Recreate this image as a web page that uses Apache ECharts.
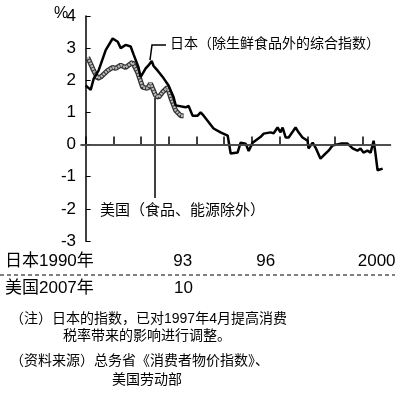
<!DOCTYPE html>
<html><head><meta charset="utf-8">
<script src="https://cdn.jsdelivr.net/npm/echarts@6/dist/echarts.min.js"></script>
<style>html,body{margin:0;padding:0;background:#fff}#c{width:400px;height:400px}</style>
</head><body><div id="c"></div>
<script>
// months since start (Japan: Jan 1990, US: Jan 2007)
const jpMonths = [0,2.2,3.5,5.6,8.7,11.7,13.9,15.2,17.3,19.5,20.8,22.9,23.8,26,27.3,28.6,29.4,31.2,33.8,35.9,38.1,39,43.3,44.6,46.3,48.5,49.8,51.1,55.4,58.4,61.5,62.8,65.8,67.1,69.3,70.6,72.3,75.8,77.1,80.1,81.4,83.1,84.4,85.3,86.6,87.9,90.9,92.2,93.9,96.1,96.5,98.3,99.6,101.7,103,105.2,106.9,110.4,113.4,115.6,117.7,119,120.3,122,123.4,124.7,125.5,126.4,128.6];
const jpValues = [1.84,1.7,2.05,2.3,2.94,3.3,3.2,3.0,3.1,3.05,2.8,2.4,2.1,2.37,2.47,2.6,2.45,2.3,2.06,1.84,1.47,1.22,1.16,1.2,0.9,0.9,1.0,0.9,0.5,0.38,0.28,-0.28,-0.25,0.06,0.03,-0.2,0.06,0.24,0.34,0.38,0.35,0.53,0.38,0.53,0.22,0.22,0.53,0.38,0.22,0.12,-0.12,0.06,-0.1,-0.44,-0.34,-0.19,-0.03,0.03,0.03,-0.12,-0.19,-0.12,-0.25,-0.19,-0.25,0.12,-0.28,-0.8,-0.75];
const usMonths = [0.9,3.5,5.2,6.5,9.5,11.7,13,15.2,17.3,20.3,22.5,24.7,26.8,28.1,30.3,31.6,33.3,35.5,36.8,39,41.1,42.4];
const usValues = [2.72,2.3,2.06,2.1,2.3,2.4,2.37,2.47,2.4,2.56,2.25,1.78,1.75,1.9,1.53,1.47,1.63,1.78,1.47,1.06,0.9,0.9];
const yearTicks = [0,12,24,36,48,60,72,84,96,108,120];
const jpLabelPos = [42,78,126];
const jpLabels = ['93','96','2000'];

const F = '"Liberation Sans","Noto Sans CJK SC",sans-serif';
const zip = (a,b)=>a.map((v,i)=>[v,b[i]]);
const chart = echarts.init(document.getElementById('c'));
const txt = (x,y,t,fs)=>({type:'text',left:x,top:y,style:{text:t,font:`${fs||14}px ${F}`,fill:'#000'}});
chart.setOption({
  animation:false,
  grid:{left:81,right:9.5,top:16,bottom:159},
  xAxis:{type:'value',min:-2,max:132,
    axisLine:{lineStyle:{color:'#000',width:1.5}},
    axisTick:{inside:true,length:8,customValues:yearTicks,lineStyle:{color:'#000',width:1.5}},
    axisLabel:{customValues:jpLabelPos,formatter:v=>jpLabels[jpLabelPos.indexOf(v)],color:'#000',fontSize:17,fontFamily:F,margin:12},
    splitLine:{show:false}},
  yAxis:{type:'value',min:-3,max:4,interval:1,
    axisLine:{show:true,lineStyle:{color:'#000',width:1.5}},
    axisTick:{inside:true,length:5,lineStyle:{color:'#000'}},
    axisLabel:{color:'#000',fontSize:17,fontFamily:F,margin:5,showMaxLabel:true,showMinLabel:true},
    splitLine:{show:false}},
  series:[
    {type:'line',data:zip(usMonths,usValues),symbol:'none',lineStyle:{color:'#333',width:5},z:2,
      markLine:{silent:true,symbol:'none',label:{show:false},lineStyle:{color:'#555',width:1.5,type:'solid'},data:[{yAxis:0}]}},
    {type:'line',data:zip(usMonths,usValues),symbol:'none',lineStyle:{color:'#bbb',width:2.5,type:[2,1]},z:3},
    {type:'line',data:zip(jpMonths,jpValues),symbol:'none',lineStyle:{color:'#000',width:2.5},z:4}
  ],
  graphic:[
    txt(54,6,'%',16),
    {type:'polyline',shape:{points:[[150,60],[152,45],[166,45]]},style:{stroke:'#000',lineWidth:1.5,fill:null}},
    txt(170,37,'日本（除生鲜食品外的综合指数）',14),
    {type:'line',shape:{x1:155,y1:98,x2:155,y2:198},style:{stroke:'#000',lineWidth:1.5}},
    txt(100,203,'美国（食品、能源除外）',15),
    txt(5,253,'日本1990年',17),
    {type:'line',shape:{x1:0,y1:275,x2:395,y2:275},style:{stroke:'#000',lineWidth:1,lineDash:[4,3]}},
    txt(5,280,'美国2007年',17),
    txt(174,280,'10',17),
    txt(10,312,'（注）日本的指数，已对1997年4月提高消费',14),
    txt(63,329,'税率带来的影响进行调整。',14),
    txt(10,354,'（资料来源）总务省《消费者物价指数》、',14),
    txt(112,373,'美国劳动部',14)
  ]
});
</script></body></html>
